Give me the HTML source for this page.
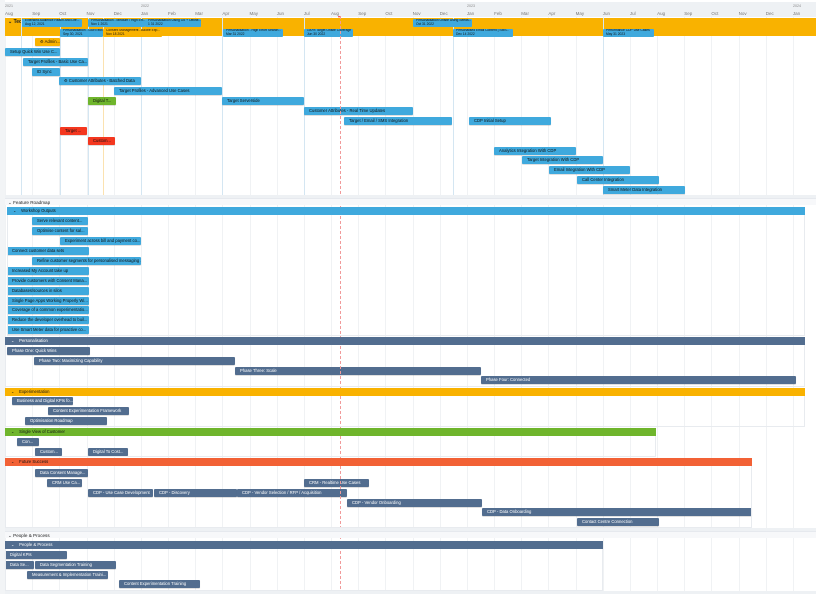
<!DOCTYPE html>
<html><head><meta charset="utf-8"><style>
*{margin:0;padding:0;box-sizing:border-box}
body{width:816px;height:594px;overflow:hidden;background:#fff;position:relative;font-family:"Liberation Sans",sans-serif}
.a{position:absolute}
.b{position:absolute;height:8px;font-size:4.2px;line-height:8px;color:#111;white-space:nowrap;overflow:hidden;padding-left:5px;border-radius:1px;box-shadow:0 0.5px 0.5px rgba(0,0,0,.25)}
.bl{background:#3fa9dd}.sl{background:#526d8f;color:#fff}.og{background:#f9b200}.gr{background:#6fb52c}.rd{background:#f4371f}.fs{background:#f26135}
.ms{position:absolute;height:8px;font-size:3.3px;line-height:3.8px;color:#111;background:#3fa9dd;padding:0 3px;white-space:nowrap;overflow:hidden;border-radius:1px}
.vl{position:absolute;width:1px;background:#d4e6f2}
.gl{position:absolute;width:1px;background:#f0f2f4;top:17px;height:575px}
.m{position:absolute;top:11px;font-size:4.5px;color:#777}
.y{position:absolute;top:4px;font-size:3.6px;color:#888}
.sec{position:absolute;left:5px;width:811px;height:7px;background:#f7f8fa;font-size:4.6px;line-height:7px;padding-left:3px;color:#222;border-top:1px solid #e6e9ee}
.band{position:absolute;height:8px;font-size:4.2px;line-height:8px;padding-left:6px;color:#111}
.box{position:absolute;border:1px solid #e8ebef;border-top:none}
</style></head><body>
<div class="a" style="left:0;top:2px;width:816px;height:15px;background:#eef1f4"></div>
<div class="a" style="left:0;top:0;width:5px;height:594px;background:#f2f4f6"></div>
<div id="g"></div>
<span class="y" style="left:5px">2021</span><span class="y" style="left:141px">2022</span><span class="y" style="left:467px">2023</span><span class="y" style="left:793px">2024</span>
<div id="mo"></div>
<!-- Tech band -->
<div class="a og" style="left:5px;top:18px;width:811px;height:18px"></div>
<div class="a" style="left:8px;top:19px;font-size:5px;font-weight:bold;color:#222">⌄ Tech</div>
<div class="vl" style="left:21px;top:18px;height:178px"></div>
<div class="vl" style="left:60px;top:18px;height:178px"></div>
<div class="vl" style="left:88px;top:18px;height:178px"></div>
<div class="vl" style="left:103px;top:18px;height:178px;background:#fbe2b0"></div>
<div class="vl" style="left:141px;top:18px;height:178px"></div>
<div class="vl" style="left:222px;top:18px;height:178px"></div>
<div class="vl" style="left:304px;top:18px;height:178px"></div>
<div class="vl" style="left:453px;top:18px;height:178px"></div>
<div class="vl" style="left:603px;top:18px;height:178px"></div>
<div class="ms" style="left:22px;top:19px;width:60px">Extended Audience Reach And Life...<br>Aug 12, 2021</div>
<div class="ms" style="left:88px;top:19px;width:57px">Personalisation - Medium / High Eff...<br>Nov 1 2021</div>
<div class="ms" style="left:145px;top:19px;width:56px">Personalisation Using Oo + Offline...<br>1 31 2022</div>
<div class="ms" style="left:413px;top:19px;width:59px">Personalisation Onsite Using Seeds...<br>Oct 31 2022</div>
<div class="ms" style="left:60px;top:29px;width:43px">Personalisation - Low Effort...<br>Sep 30, 2021</div>
<div class="ms" style="left:103px;top:29px;width:59px;background:#f9b200">Consent Management - Adobe Exp...<br>Nov 18 2021</div>
<div class="ms" style="left:223px;top:29px;width:60px">Personalisation - High Effort Search...<br>Mar 31 2022</div>
<div class="ms" style="left:304px;top:29px;width:49px">100% Target Onsite Coverage<br>Jun 30 2022</div>
<div class="ms" style="left:453px;top:29px;width:60px">Personalised Email Content | SMS...<br>Dec 14 2022</div>
<div class="ms" style="left:603px;top:29px;width:51px">Performance CDP Use Cases<br>May 31 2023</div>
<div id="bars"></div>
<div class="a" style="left:340px;top:16px;height:578px;border-left:1px dashed #f19a9a"></div>
<div class="a" style="left:338px;top:14px;font-size:4px;color:#e33">▾</div>
<script>
var mg=document.getElementById('mo'),g=document.getElementById('g'),h='',gh='';
var ms=['Aug','Sep','Oct','Nov','Dec','Jan','Feb','Mar','Apr','May','Jun','Jul'];
for(var k=0;k<30;k++){var x=5+27.17*k;h+='<span class="m" style="left:'+x.toFixed(1)+'px">'+ms[k%12]+'</span>';gh+='<div class="gl" style="left:'+x.toFixed(1)+'px"></div>';}
mg.innerHTML=h;g.innerHTML=gh;
var B=[
['og',35,60,38,'⚙ Admin...'],['bl',5,60,48,'Setup Quick Win Use C...'],['bl',23,88,58,'Target Profiles - Basic Use Ca...'],['bl',32,60,68,'ID Sync'],
['bl',59,141,77,'⚙ Customer Attributes - Batched Data'],['bl',114,222,87,'Target Profiles - Advanced Use Cases'],['gr',88,116,97,'Digital T...'],['bl',222,304,97,'Target Serverside'],
['bl',304,413,107,'Customer Attributes - Real Time Updates'],['bl',344,452,117,'Target / Email / SMS Integration'],['bl',469,551,117,'CDP Initial Setup'],
['rd',60,87,127,'Target ...'],['rd',88,115,137,'Custom...'],['bl',494,576,147,'Analytics Integration With CDP'],['bl',522,603,156,'Target Integration With CDP'],
['bl',549,630,166,'Email Integration With CDP'],['bl',577,659,176,'Call Center Integration'],['bl',603,685,186,'Smart Meter Data Integration'],
['bl',32,88,217,'Serve relevant content...'],['bl',32,88,227,'Optimise content for sal...'],['bl',60,141,237,'Experiment across bill and payment co...'],
['bl',7,89,247,'Connect customer data sets'],['bl',32,141,257,'Refine customer segments for personalised messaging ...'],['bl',7,89,267,'Increased My Account take up'],
['bl',7,89,277,'Provide customers with Consent Mana...'],['bl',7,89,287,'Databases/sources in silos'],['bl',7,89,297,'Single Page Apps Working Properly Wi...'],
['bl',7,89,306,'Coverage of a common experimentatio...'],['bl',7,89,316,'Reduce the developer overhead to buil...'],['bl',7,89,326,'Use Smart Meter data for proactive co...'],
['sl',7,90,347,'Phase One: Quick Wins'],['sl',34,235,357,'Phase Two: Maximizing Capability'],['sl',235,481,367,'Phase Three: Scale'],['sl',481,796,376,'Phase Four: Connected'],
['sl',12,73,397,'Business and Digital KPIs fo...'],['sl',48,129,407,'Content Experimentation Framework'],['sl',25,107,417,'Optimisation Roadmap'],
['sl',17,39,438,'Con...'],['sl',35,62,448,'Custom...'],['sl',88,128,448,'Digital To Cost...'],
['sl',35,88,469,'Data Consent Manage...'],['sl',47,82,479,'CRM Use Ca...'],['sl',304,369,479,'CRM - Realtime Use Cases'],['sl',88,153,489,'CDP - Use Case Development'],
['sl',154,237,489,'CDP - Discovery'],['sl',237,347,489,'CDP - Vendor Selection / RFP / Acquisition'],['sl',347,482,499,'CDP - Vendor Onboarding'],
['sl',482,752,508,'CDP - Data Onboarding'],['sl',577,659,518,'Contact Centre Connection'],
['sl',5,67,551,'Digital KPIs'],['sl',5,34,561,'Data Se...'],['sl',35,116,561,'Data Segmentation Training'],['sl',27,108,571,'Measurement &amp; Implementation Traini...'],['sl',119,200,580,'Content Experimentation Training']
];
var o='';B.forEach(function(b){o+='<div class="b '+b[0]+'" style="left:'+b[1]+'px;top:'+b[3]+'px;width:'+(b[2]-b[1])+'px">'+b[4]+'</div>';});
document.getElementById('bars').innerHTML=o;
</script>
<!-- section dividers -->
<div class="a" style="left:5px;top:195px;width:811px;height:3px;background:#eef1f4"></div>
<div class="sec" style="top:198px">⌄ Feature Roadmap</div>
<div class="box" style="left:7px;top:215px;width:798px;height:121px"></div>
<div class="band bl" style="left:7px;top:207px;width:798px">⌄&nbsp;&nbsp;&nbsp; Workshop Outputs</div>
<div class="band sl" style="left:5px;top:337px;width:800px;color:#fff">⌄&nbsp;&nbsp;&nbsp; Personalisation</div>
<div class="box" style="left:5px;top:345px;width:800px;height:42px"></div>
<div class="band og" style="left:5px;top:388px;width:800px">⌄&nbsp;&nbsp;&nbsp; Experimentation</div>
<div class="box" style="left:5px;top:396px;width:800px;height:31px"></div>
<div class="band gr" style="left:5px;top:428px;width:651px">⌄&nbsp;&nbsp;&nbsp; Single View of Customer</div>
<div class="box" style="left:5px;top:436px;width:651px;height:21px"></div>
<div class="band fs" style="left:5px;top:458px;width:747px">⌄&nbsp;&nbsp;&nbsp; Future Success</div>
<div class="box" style="left:5px;top:466px;width:747px;height:62px"></div>
<div class="a" style="left:5px;top:528px;width:811px;height:3px;background:#eef1f4"></div>
<div class="sec" style="top:531px">⌄ People &amp; Process</div>
<div class="band sl" style="left:5px;top:541px;width:598px;color:#fff">⌄&nbsp;&nbsp;&nbsp; People &amp; Process</div>
<div class="box" style="left:5px;top:549px;width:598px;height:42px"></div>
<div class="a" style="left:5px;top:591px;width:811px;height:3px;background:#eef1f4"></div>
</body></html>
